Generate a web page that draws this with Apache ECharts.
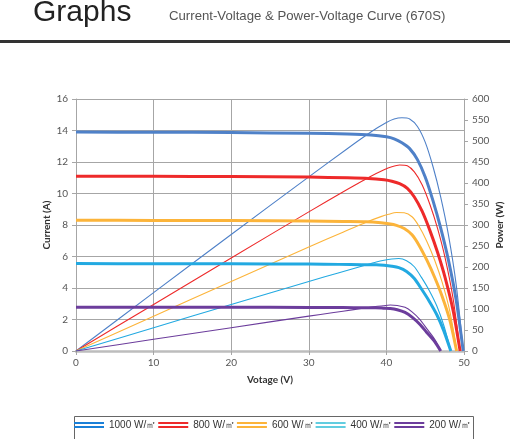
<!DOCTYPE html>
<html>
<head>
<meta charset="utf-8">
<script src="https://cdn.jsdelivr.net/npm/echarts@6/dist/echarts.min.js"></script>
<style>
  html, body { margin: 0; padding: 0; background: #fff; overflow: hidden; }
  #chart { width: 510px; height: 439px; }
</style>
</head>
<body>
<div id="chart"></div>
<script>

// irradiance levels (legend names)
const levels = ['1000 W/㎡', '800 W/㎡', '600 W/㎡', '400 W/㎡', '200 W/㎡'];

// voltage points (V), current (A), power (W)
const v1000 = [0, 10, 20, 30, 35, 38, 40, 41, 42, 43, 44, 45, 46, 47, 48, 49, 49.9];
const i1000 = [13.9, 13.89, 13.87, 13.82, 13.78, 13.72, 13.6, 13.47, 13.22, 12.85, 12.15, 11.05, 9.55, 7.8, 5.75, 3.2, 0];
const p1000 = [0, 138.9, 277.4, 414.6, 482.3, 521.4, 544, 552.3, 555.2, 552.6, 534.6, 497.3, 439.3, 366.6, 276, 156.8, 0];

const v800 = [0, 10, 20, 30, 35, 37.7, 39.7, 40.7, 41.7, 42.7, 43.6, 44.6, 45.6, 46.6, 47.6, 48.6, 49.5];
const i800 = [11.1, 11.09, 11.08, 11.04, 11.0, 10.96, 10.87, 10.78, 10.62, 10.33, 9.78, 8.88, 7.66, 6.25, 4.6, 2.56, 0];
const p800 = [0, 110.9, 221.6, 331.2, 385, 413.2, 431.5, 438.7, 442.9, 441.1, 426.4, 396.0, 349.3, 291.3, 219.0, 124.4, 0];

const v600 = [0, 10, 20, 30, 34.4, 37.4, 39.3, 40.3, 41.3, 42.3, 43.3, 44.2, 45.2, 46.2, 47.2, 48.2, 49.05];
const i600 = [8.3, 8.29, 8.28, 8.25, 8.22, 8.2, 8.14, 8.08, 7.98, 7.78, 7.38, 6.72, 5.78, 4.7, 3.45, 1.92, 0];
const p600 = [0, 82.9, 165.6, 247.5, 282.8, 306.7, 319.9, 325.6, 329.6, 329.1, 319.6, 297.0, 261.3, 217.1, 162.8, 92.5, 0];

const v400 = [0, 10, 20, 30, 33.9, 36.8, 38.7, 39.7, 40.7, 41.6, 42.6, 43.6, 44.5, 45.5, 46.5, 47.4, 48.3];
const i400 = [5.55, 5.545, 5.54, 5.52, 5.5, 5.48, 5.47, 5.44, 5.38, 5.29, 5.05, 4.6, 3.95, 3.18, 2.3, 1.28, 0];
const p400 = [0, 55.5, 110.8, 165.6, 186.5, 201.7, 211.7, 216.0, 219.0, 220.1, 215.1, 200.6, 175.8, 144.7, 107.0, 60.7, 0];

const v200 = [0, 10, 20, 30, 33, 35.8, 37.7, 38.6, 39.6, 40.5, 41.4, 42.4, 43.3, 44.3, 45.2, 46.2, 47.0];
const i200 = [2.78, 2.778, 2.775, 2.765, 2.76, 2.75, 2.745, 2.74, 2.72, 2.70, 2.62, 2.45, 2.15, 1.7, 1.18, 0.62, 0];
const p200 = [0, 27.8, 55.5, 83.0, 91.1, 98.5, 103.5, 105.8, 107.7, 109.4, 108.5, 103.9, 93.1, 75.3, 53.3, 28.6, 0];

const lineColors = ['#4f81c8', '#ee2a2a', '#fcb43a', '#22a9e1', '#6c3d9c'];
const legendColors = ['#1a80d8', '#ee2a2a', '#fcb43a', '#62cde0', '#6c3d9c'];

const voltArr = [v1000, v800, v600, v400, v200];
const currArr = [i1000, i800, i600, i400, i200];
const powArr = [p1000, p800, p600, p400, p200];

function pairs(xs, ys)
{
   const out = [];
   for (let k = 0; k < xs.length; k++) out.push([xs[k], ys[k]]);
   return out;
}

const series = [];
for (let n = 0; n < levels.length; n++)
{
   // I-V curve (thick, left axis)
   series.push(
   {
      type: 'line',
      name: levels[n],
      yAxisIndex: 0,
      data: pairs(voltArr[n], currArr[n]),
      showSymbol: false,
      symbol: 'none',
      smooth: 0.25,
      lineStyle: { width: 3, color: lineColors[n] },
      itemStyle: { color: lineColors[n] },
      z: 3
   });
   // P-V curve (thin, right axis)
   series.push(
   {
      type: 'line',
      name: levels[n],
      yAxisIndex: 1,
      data: pairs(voltArr[n], powArr[n]),
      showSymbol: false,
      symbol: 'none',
      smooth: 0.25,
      lineStyle: { width: 1.1, color: lineColors[n] },
      itemStyle: { color: lineColors[n] },
      z: 2
   });
}

const axisFont = 'Lato, "DejaVu Sans", sans-serif';
const gridColor = '#a6a6a6';

const chart = echarts.init(document.getElementById('chart'));
chart.setOption(
{
   animation: false,
   backgroundColor: '#fff',
   graphic: [
      {
         type: 'text', left: 33, top: -2,
         style: { text: 'Graphs', font: '30px "Liberation Sans", Arial, sans-serif', fill: '#222' }
      },
      {
         type: 'text', left: 169, top: 10,
         style: { text: 'Current-Voltage & Power-Voltage Curve (670S)', font: '13.2px "Liberation Sans", Arial, sans-serif', fill: '#555' }
      },
      {
         type: 'rect', left: 0, top: 40,
         shape: { width: 510, height: 3 },
         style: { fill: '#333' }
      },
      {
         // legend frame, runs past the bottom edge
         type: 'rect', left: 72, top: 414,
         shape: { width: 399, height: 40 },
         style: { fill: 'none', stroke: '#666', lineWidth: 1 }
      }
   ],
   legend:
   {
      data: levels.map((nm, k) => ({ name: nm, itemStyle: { color: legendColors[k] } })),
      left: 72,
      top: 414,
      padding: [6, 3, 4, 2],
      itemWidth: 30,
      itemHeight: 6,
      itemGap: 2,
      icon: 'path://M0,0H30V2H0Z M0,4H30V6H0Z',
      selectedMode: false,
      textStyle: { fontSize: 10, color: '#333', fontFamily: '"Liberation Sans", Arial, sans-serif' }
   },
   grid: { left: 76, right: 46, top: 99, bottom: 88, containLabel: false, outerBoundsMode: 'none' },
   xAxis:
   {
      type: 'value',
      min: 0, max: 50, interval: 10,
      name: 'Votage (V)',
      nameLocation: 'middle',
      nameGap: 24,
      nameMoveOverlap: false,
      nameTextStyle: { fontSize: 10, fontWeight: 'bold', color: '#333', fontFamily: axisFont },
      axisLine: { show: true, lineStyle: { color: '#bdbdbd', width: 2.5 } },
      axisTick: { show: true, length: 4, lineStyle: { color: gridColor } },
      axisLabel: { fontSize: 10, color: '#555', margin: 7, fontFamily: axisFont },
      splitLine: { show: true, lineStyle: { color: gridColor, width: 1 } }
   },
   yAxis: [
      {
         type: 'value',
         min: 0, max: 16, interval: 2,
         position: 'left',
         name: 'Current (A)',
         nameLocation: 'middle',
         nameGap: 24,
         nameMoveOverlap: false,
         nameRotate: 90,
         nameTextStyle: { fontSize: 10, fontWeight: 'bold', color: '#333', fontFamily: axisFont },
         axisLine: { show: true, lineStyle: { color: gridColor } },
         axisTick: { show: true, length: 4, lineStyle: { color: gridColor } },
         axisLabel: { fontSize: 10, color: '#555', margin: 8, fontFamily: axisFont },
         splitLine: { show: true, lineStyle: { color: gridColor, width: 1 } }
      },
      {
         type: 'value',
         min: 0, max: 600, interval: 50,
         position: 'right',
         name: 'Power (W)',
         nameLocation: 'middle',
         nameGap: 31,
         nameMoveOverlap: false,
         nameRotate: 90,
         nameTextStyle: { fontSize: 10, fontWeight: 'bold', color: '#333', fontFamily: axisFont },
         axisLine: { show: true, lineStyle: { color: gridColor } },
         axisTick: { show: true, length: 4, lineStyle: { color: gridColor } },
         axisLabel: { fontSize: 10, color: '#555', margin: 8, fontFamily: axisFont },
         splitLine: { show: false }
      }
   ],
   series: series
});
</script>
</body>
</html>
